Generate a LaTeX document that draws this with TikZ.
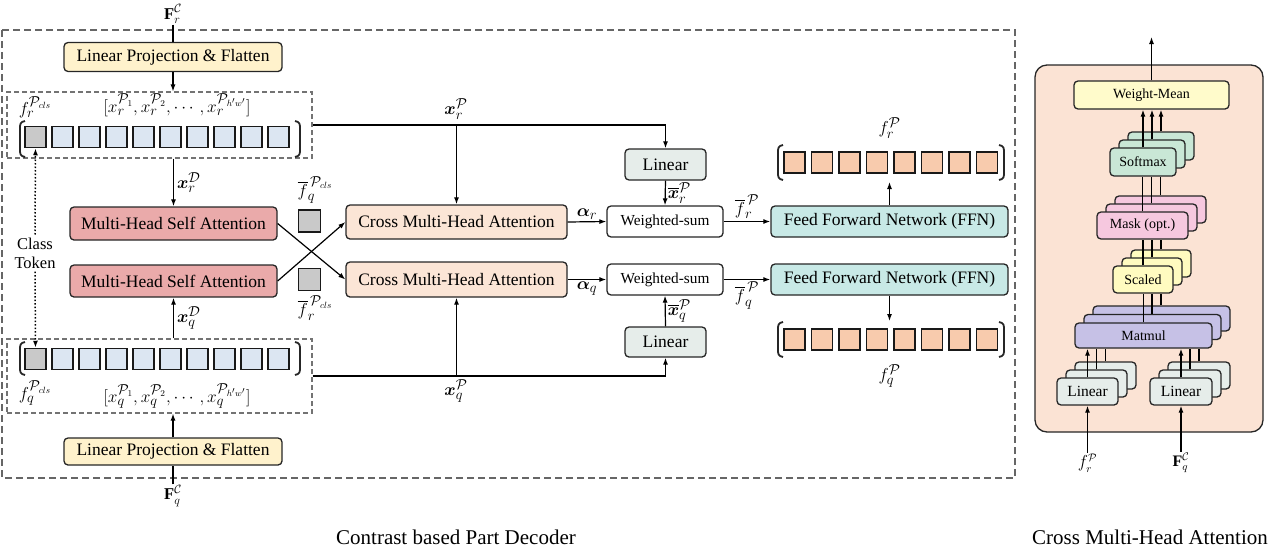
\documentclass[tikz,border=0pt]{standalone}
\usepackage{amsmath}
\usepackage{fontspec}
\setmainfont{Liberation Serif}
\usetikzlibrary{arrows.meta}
\definecolor{lpc}{HTML}{FFF2CC}
\definecolor{btok}{HTML}{DCE6F2}
\definecolor{gtok}{HTML}{C9C9C9}
\definecolor{otok}{HTML}{F8CBAD}
\definecolor{mhc}{HTML}{EAAAAA}
\definecolor{cmc}{HTML}{FBE5D6}
\definecolor{lnc}{HTML}{E6EDEA}
\definecolor{ffc}{HTML}{C8E9E6}
\definecolor{panc}{HTML}{FBE3D4}
\definecolor{wmc}{HTML}{FFFBCB}
\definecolor{smc}{HTML}{C9E7D6}
\definecolor{mkc}{HTML}{F6C8DF}
\definecolor{scc}{HTML}{FFFBC0}
\definecolor{mmc}{HTML}{C6C1E6}
\newcommand{\myLP}[3]{\draw[paren] (#1+5,#2) .. controls (#1,#2+1) and (#1,#2+3) .. (#1,#2+8) -- (#1,#3-8) .. controls (#1,#3-3) and (#1,#3-1) .. (#1+5,#3);}
\newcommand{\myRP}[3]{\draw[paren] (#1-5,#2) .. controls (#1,#2+1) and (#1,#2+3) .. (#1,#2+8) -- (#1,#3-8) .. controls (#1,#3-3) and (#1,#3-1) .. (#1-5,#3);}
\tikzset{
 bx/.style={draw=black!85, line width=1.3pt, rounded corners=4pt, inner sep=0pt, align=center},
 arr/.style={-{Latex[length=7pt,width=5pt]}, line width=1.2pt},
 ln/.style={line width=1.2pt},
 tok/.style={draw=black!90, line width=1.5pt, minimum size=21pt, inner sep=0pt},
 paren/.style={line width=1.8pt, black!85},
 tokbox/.style={draw=black!55, dash pattern=on 5pt off 3pt, line width=1.1pt, inner sep=0pt},
 lbl/.style={inner sep=1pt, font=\fontsize{19}{22}\selectfont},
 small/.style={font=\fontsize{14}{16}\selectfont},
}
\begin{document}
\begin{tikzpicture}[x=1pt,y=-1pt, font=\fontsize{17.5}{20}\selectfont]
\useasboundingbox (0,0) rectangle (1280,555);
% outer dashed frame
\draw[draw=black!60, dash pattern=on 7pt off 4pt, line width=1.3pt] (2,30) rectangle (1015,478);

% top input
\node[lbl, font=\fontsize{16.5}{18}\selectfont] (Fr) at (173,14) {$\mathbf{F}_r^{\mathcal{C}}$};
\node[bx, fill=lpc, minimum width=218pt, minimum height=29pt] (lpr) at (173,57) {Linear Projection \& Flatten};
\draw[ln] (Fr.south) -- (lpr.north);

% top token box
\node[tokbox, minimum width=305pt, minimum height=66pt] (tokr) at (159.5,125) {};
\node[tok, fill=gtok] (tr1) at (35.5,137) {};
\foreach \i in {2,...,10} { \node[tok, fill=btok] (tr\i) at ({35.5+27*(\i-1)},137) {}; }
\myLP{20}{121}{157}
\myRP{300}{121}{157}
\node[lbl] (frcls) at (35,107) {$f_r^{\mathcal{P}_{cls}}$};
\node[lbl] (xrseq) at (177,105) {$[x_r^{\mathcal{P}_1}, x_r^{\mathcal{P}_2}, \cdots, x_r^{\mathcal{P}_{h'w'}}]$};
\draw[arr] (lpr.south) -- (lpr.south |- tokr.north);

% bottom token box
\node[tokbox, minimum width=305pt, minimum height=74pt] (tokq) at (159.5,376) {};
\node[tok, fill=gtok] (tq1) at (35.5,359) {};
\foreach \i in {2,...,10} { \node[tok, fill=btok] (tq\i) at ({35.5+27*(\i-1)},359) {}; }
\myLP{20}{342}{375}
\myRP{300}{342}{375}
\node[lbl] (fqcls) at (35,393) {$f_q^{\mathcal{P}_{cls}}$};
\node[lbl] (xqseq) at (177,396) {$[x_q^{\mathcal{P}_1}, x_q^{\mathcal{P}_2}, \cdots, x_q^{\mathcal{P}_{h'w'}}]$};

\node[bx, fill=lpc, minimum width=218pt, minimum height=27pt] (lpq) at (173,451.5) {Linear Projection \& Flatten};
\node[lbl, font=\fontsize{16.5}{18}\selectfont] (Fq) at (173,496) {$\mathbf{F}_q^{\mathcal{C}}$};
\draw[ln] (Fq.north) -- (lpq.south);
\draw[arr] (lpq.north) -- (lpq.north |- tokq.south);

% class token
\node[align=center, inner sep=3pt, font=\fontsize{16.5}{19}\selectfont] (ct) at (35,253) {Class\\Token};
\draw[dotted, line width=1.5pt, -{Latex[length=7pt,width=5pt]}] (ct.north) -- (tr1.south);
\draw[dotted, line width=1.5pt, -{Latex[length=7pt,width=5pt]}] (ct.south) -- (tq1.north);

% MHSA
\node[bx, fill=mhc, minimum width=207pt, minimum height=33pt] (mhr) at (173.5,223.5) {Multi-Head Self Attention};
\node[bx, fill=mhc, minimum width=207pt, minimum height=32pt] (mhq) at (173.5,281) {Multi-Head Self Attention};
\draw[arr] (tokr.south -| mhr.north) -- (mhr.north) node[lbl, midway, right=2pt] {$\boldsymbol{x}_r^{\mathcal{D}}$};
\draw[arr] (tokq.north -| mhq.south) -- (mhq.south) node[lbl, midway, right=2pt] {$\boldsymbol{x}_q^{\mathcal{D}}$};

% class tokens small
\node[tok, fill=gtok, minimum size=22pt] (gq) at (309.5,221) {};
\node[tok, fill=gtok, minimum size=22pt] (gr) at (309.5,279.5) {};
\node[lbl] (fqbar) at (315,190) {$\overline{f}_q^{\,\mathcal{P}_{cls}}$};
\node[lbl] (frbar) at (315,308) {$\overline{f}_r^{\,\mathcal{P}_{cls}}$};

% CMHA
\node[bx, fill=cmc, minimum width=221pt, minimum height=34pt] (cmr) at (456.5,222) {Cross Multi-Head Attention};
\node[bx, fill=cmc, minimum width=221pt, minimum height=35pt] (cmq) at (456.5,279.5) {Cross Multi-Head Attention};
\draw[arr] (mhr.east) -- (cmq.west);
\draw[arr] (mhq.east) -- (cmr.west);

% weighted sum, linear
\node[bx, fill=white, minimum width=116pt, minimum height=31pt, font=\fontsize{15.3}{18}\selectfont] (wsr) at (665,221.5) {Weighted-sum};
\node[bx, fill=white, minimum width=116pt, minimum height=31pt, font=\fontsize{15.3}{18}\selectfont] (wsq) at (665,279.5) {Weighted-sum};
\node[bx, fill=lnc, minimum width=81pt, minimum height=31pt] (lnr) at (665.5,164.5) {Linear};
\node[bx, fill=lnc, minimum width=81pt, minimum height=30pt] (lnq) at (665.5,342) {Linear};

\draw[arr] (tokr.east) -| (lnr.north);
\draw[arr] (tokr.east -| cmr.north) -- (cmr.north);
\node[lbl] (xrP) at (456,109) {$\boldsymbol{x}_r^{\mathcal{P}}$};
\draw[arr] (tokq.east) -| (lnq.south);
\draw[arr] (tokq.east -| cmq.south) -- (cmq.south);
\node[lbl] (xqP) at (456,391) {$\boldsymbol{x}_q^{\mathcal{P}}$};

\draw[arr] (cmr.east) -- (wsr.west) node[lbl, midway, above=1pt] {$\boldsymbol{\alpha}_r$};
\draw[arr] (cmq.east) -- (wsq.west) node[lbl, midway, below=1pt] {$\boldsymbol{\alpha}_q$};
\draw[arr] (lnr.south) -- (wsr.north) node[lbl, midway, right=1pt] {$\overline{\boldsymbol{x}}_r^{\mathcal{P}}$};
\draw[arr] (lnq.north) -- (wsq.south) node[lbl, midway, right=1pt] {$\overline{\boldsymbol{x}}_q^{\mathcal{P}}$};

% FFN
\node[bx, fill=ffc, minimum width=237pt, minimum height=31pt] (ffr) at (889.5,221.5) {Feed Forward Network (FFN)};
\node[bx, fill=ffc, minimum width=237pt, minimum height=31pt] (ffq) at (889.5,279.5) {Feed Forward Network (FFN)};
\draw[arr] (wsr.east) -- (ffr.west) node[lbl, midway, above=1pt] {$\overline{f}_r^{\,\mathcal{P}}$};
\draw[arr] (wsq.east) -- (ffq.west) node[lbl, midway, below=1pt] {$\overline{f}_q^{\,\mathcal{P}}$};

% outputs
\foreach \i in {1,...,8} { \node[tok, fill=otok] (or\i) at ({794.5+27.5*(\i-1)},162.5) {}; }
\foreach \i in {1,...,8} { \node[tok, fill=otok] (oq\i) at ({794.5+27.5*(\i-1)},339.5) {}; }
\myLP{778}{145}{180}
\myRP{1004}{145}{180}
\myLP{778}{322}{357}
\myRP{1004}{322}{357}
\coordinate (outr) at (889.5,182);
\coordinate (outq) at (889.5,321);
\draw[arr] (ffr.north) -- (outr);
\draw[arr] (ffq.south) -- (outq);
\node[lbl] (frP) at (889.5,128) {$f_r^{\mathcal{P}}$};
\node[lbl] (fqP) at (889.5,376) {$f_q^{\mathcal{P}}$};

% captions
\node[font=\fontsize{21}{24}\selectfont] (cap1) at (456,537) {Contrast based Part Decoder};
\node[font=\fontsize{21}{24}\selectfont] (cap2) at (1150,537) {Cross Multi-Head Attention};

% ===== right panel =====
\draw[draw=black!85, line width=1.3pt, fill=panc, rounded corners=12pt] (1035,65) rectangle (1263,432);
\node[bx, fill=wmc, minimum width=155pt, minimum height=28pt, small] (wm) at (1151.5,95) {Weight-Mean};
\coordinate (top) at (1151.5,37);
\draw[arr] (wm.north) -- (top);

% stacks (back copies first)
\foreach \i in {2,1} {
 \node[bx, fill=smc, minimum width=66pt, minimum height=28pt] (sm\i) at ({1143+9*\i},{162-8*\i}) {};
}
\node[bx, fill=smc, minimum width=66pt, minimum height=28pt, small] (sm) at (1143,162) {Softmax};
\foreach \i in {2,1} {
 \node[bx, fill=mkc, minimum width=91pt, minimum height=27pt] (mk\i) at ({1142.5+9*\i},{225.5-8*\i}) {};
}
\node[bx, fill=mkc, minimum width=91pt, minimum height=27pt, small] (mk) at (1142.5,225.5) {Mask (opt.)};
\foreach \i in {2,1} {
 \node[bx, fill=scc, minimum width=60pt, minimum height=27pt] (sc\i) at ({1143+9*\i},{279.5-8*\i}) {};
}
\node[bx, fill=scc, minimum width=60pt, minimum height=27pt, small] (sc) at (1143,279.5) {Scaled};
\foreach \i in {2,1} {
 \node[bx, fill=mmc, minimum width=137pt, minimum height=25pt] (mm\i) at ({1143.5+9*\i},{335.5-8.5*\i}) {};
}
\node[bx, fill=mmc, minimum width=137pt, minimum height=25pt, small] (mm) at (1143.5,335.5) {Matmul};
\foreach \i in {2,1} {
 \node[bx, fill=lnc, minimum width=61pt, minimum height=27pt] (la\i) at ({1087.5+9*\i},{391.5-8*\i}) {};
 \node[bx, fill=lnc, minimum width=62pt, minimum height=27pt] (lb\i) at ({1181+9*\i},{391.5-8*\i}) {};
}
\node[bx, fill=lnc, minimum width=61pt, minimum height=27pt, font=\fontsize{15.5}{18}\selectfont] (la) at (1087.5,391.5) {Linear};
\node[bx, fill=lnc, minimum width=62pt, minimum height=27pt, font=\fontsize{15.5}{18}\selectfont] (lb) at (1181,391.5) {Linear};

% connectors between stacks
\draw[arr] (sm.north) -- (sm.north |- wm.south);
\draw[arr] (sm1.north) -- (sm1.north |- wm.south);
\draw[arr] (sm2.north) -- (sm2.north |- wm.south);
\draw[ln] (mk.north) -- (mk.north |- sm.south);
\draw[ln] (mk1.north) -- (mk1.north |- sm.south);
\draw[ln] (mk2.north) -- (mk2.north |- sm.south);
\draw[ln] (sc.north) -- (sc.north |- mk.south);
\draw[ln] (sc1.north) -- (sc1.north |- mk.south);
\draw[ln] (sc2.north) -- (sc2.north |- mk.south);
\draw[ln] (mm.north) -- (mm.north |- sc.south);
\draw[ln] (mm1.north -| sc1.north) -- (sc1.north |- sc.south);
\draw[ln] (mm2.north -| sc2.north) -- (sc2.north |- sc.south);
\draw[arr] (la.north) -- (la.north |- mm.south);
\draw[ln] (la1.north) -- (la1.north |- mm.south);
\draw[ln] (la2.north) -- (la2.north |- mm.south);
\draw[arr] (lb.north) -- (lb.north |- mm.south);
\draw[ln] (lb1.north) -- (lb1.north |- mm.south);
\draw[ln] (lb2.north) -- (lb2.north |- mm.south);

% inputs
\node[lbl, font=\fontsize{16}{18}\selectfont] (inr) at (1087.5,463) {$f_r^{\mathcal{P}}$};
\node[lbl, font=\fontsize{16}{18}\selectfont] (inq) at (1181,463) {$\mathbf{F}_q^{\mathcal{C}}$};
\draw[arr] (inr.north) -- (la.south);
\draw[arr] (inq.north) -- (lb.south);
\end{tikzpicture}
\end{document}
